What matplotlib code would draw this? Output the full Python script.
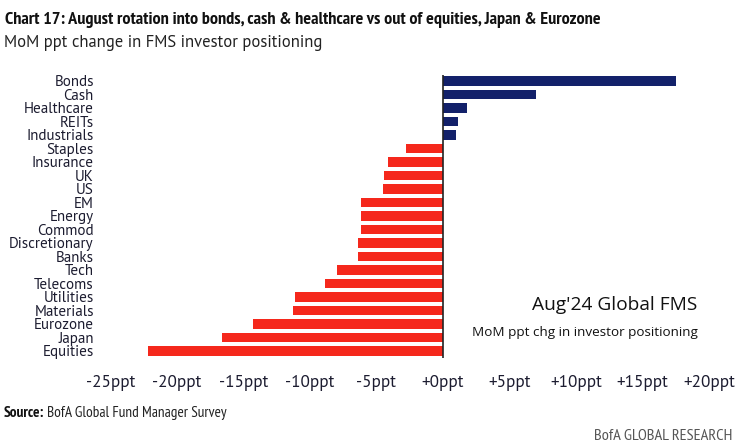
import numpy as np
import matplotlib.pyplot as plt

categories = ["Bonds", "Cash", "Healthcare", "REITs", "Industrials", "Staples",
              "Insurance", "UK", "US", "EM", "Energy", "Commod", "Discretionary",
              "Banks", "Tech", "Telecoms", "Utilities", "Materials", "Eurozone",
              "Japan", "Equities"]
values = [17.5, 7.0, 1.8, 1.1, 1.0, -2.8, -4.1, -4.4, -4.5, -6.2, -6.2, -6.2,
          -6.4, -6.4, -8.0, -8.9, -11.1, -11.3, -14.3, -16.6, -22.2]
xticks = [-25, -20, -15, -10, -5, 0, 5, 10, 15, 20]
xtick_labels = ["-25ppt", "-20ppt", "-15ppt", "-10ppt", "-5ppt",
                "+0ppt", "+5ppt", "+10ppt", "+15ppt", "+20ppt"]

NAVY = "#13216a"
RED = "#f5281c"
narrow = ["PT Sans Narrow", "DejaVu Sans"]
ptsans = ["PT Sans", "DejaVu Sans"]
wide = ["Open Sans", "DejaVu Sans"]

fig = plt.figure(figsize=(7.38, 4.48), dpi=100)
ax = fig.add_axes([0.1497, 0.2009, 0.8110, 0.6317])

y = np.arange(len(categories))
colors = [NAVY if v > 0 else RED for v in values]
ax.barh(y, values, height=0.68, color=colors)
ax.axvline(0, color="#222222", lw=1.2)

ax.set_xlim(-25, 20)
ax.set_ylim(20.52, -0.44)
ax.set_yticks(y)
ax.set_yticklabels(categories, family=ptsans, fontsize=10.8, color="#1c1c30")
ax.set_xticks(xticks)
ax.set_xticklabels(xtick_labels, family=ptsans, fontsize=12.3, color="#1c1c30")
ax.tick_params(axis="y", length=0, pad=12)
ax.tick_params(axis="x", length=0, pad=12)
for s in ax.spines.values():
    s.set_visible(False)

fig.text(0.007, 0.955, "Chart 17: August rotation into bonds, cash & healthcare vs out of equities, Japan & Eurozone",
         family=narrow, fontweight="bold", fontsize=13.1, color="#111111", va="center")
fig.text(0.005, 0.903, "MoM ppt change in FMS investor positioning",
         family=ptsans, fontsize=12, color="#222222", va="center")

fig.text(0.945, 0.319, "Aug'24 Global FMS", ha="right", va="center",
         fontsize=13.8, family=wide, color="#111111")
fig.text(0.946, 0.257, "MoM ppt chg in investor positioning", ha="right", va="center",
         fontsize=9.7, family=wide, color="#111111")

src = fig.text(0.005, 0.078, "Source:", family=narrow, fontweight="bold", fontsize=11,
               color="#111111", va="center")
ax.annotate("BofA Global Fund Manager Survey", xy=(1, 0.5), xycoords=src,
            xytext=(2, 0), textcoords="offset points", va="center", ha="left",
            family=narrow, fontsize=11, color="#222222")
fig.text(0.993, 0.027, "BofA GLOBAL RESEARCH", family=narrow, fontsize=11.8,
         color="#555555", ha="right", va="center")

fig.savefig("out.png", dpi=100)
